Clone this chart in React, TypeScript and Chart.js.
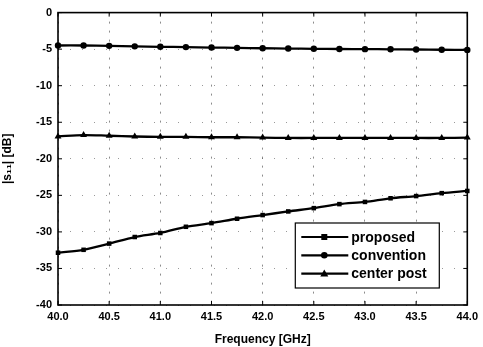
import React, { useEffect, useRef } from "react";
import { Chart, registerables } from "chart.js";

Chart.register(...registerables);

const freqs = [40.0, 40.25, 40.5, 40.75, 41.0, 41.25, 41.5, 41.75, 42.0, 42.25, 42.5, 42.75, 43.0, 43.25, 43.5, 43.75, 44.0];
const proposed = [-32.85, -32.45, -31.6, -30.7, -30.15, -29.3, -28.8, -28.2, -27.7, -27.2, -26.75, -26.2, -25.9, -25.4, -25.1, -24.7, -24.4];
const convention = [-4.5, -4.5, -4.55, -4.62, -4.68, -4.72, -4.78, -4.82, -4.88, -4.92, -4.95, -4.98, -5.0, -5.02, -5.05, -5.08, -5.1];
const centerPost = [-16.95, -16.75, -16.85, -16.95, -17.0, -17.0, -17.05, -17.05, -17.1, -17.15, -17.15, -17.15, -17.15, -17.15, -17.15, -17.15, -17.1];
const seriesNames = ["proposed", "convention", "center post"];
const seriesMarkers = ["rect", "circle", "triangle"];
const xTitle = "Frequency [GHz]";
const yTitle = "|s\u2081\u2081| [dB]";

const FONT = "'Liberation Sans', Arial, sans-serif";

function drawMarker(ctx: CanvasRenderingContext2D, kind: string, x: number, y: number) {
  ctx.beginPath();
  if (kind === "rect") {
    ctx.rect(x - 3, y - 3, 6, 6);
  } else if (kind === "circle") {
    ctx.arc(x, y, 3.3, 0, Math.PI * 2);
  } else {
    ctx.moveTo(x, y - 4);
    ctx.lineTo(x + 4, y + 3);
    ctx.lineTo(x - 4, y + 3);
    ctx.closePath();
  }
  ctx.fill();
}

const framePlugin = {
  id: "framePlugin",
  afterDraw(chart: any) {
    const { ctx, chartArea, scales } = chart;
    const { left, right, top, bottom } = chartArea;
    ctx.save();
    ctx.strokeStyle = "#000";
    ctx.lineWidth = 1.6;
    ctx.strokeRect(left, top, right - left, bottom - top);
    ctx.lineWidth = 1;
    const tl = 4;
    scales.x.ticks.forEach((t: any) => {
      const px = scales.x.getPixelForValue(t.value);
      ctx.beginPath();
      ctx.moveTo(px, bottom);
      ctx.lineTo(px, bottom - tl);
      ctx.moveTo(px, top);
      ctx.lineTo(px, top + tl);
      ctx.stroke();
    });
    scales.y.ticks.forEach((t: any) => {
      const py = scales.y.getPixelForValue(t.value);
      ctx.beginPath();
      ctx.moveTo(left, py);
      ctx.lineTo(left + tl, py);
      ctx.moveTo(right, py);
      ctx.lineTo(right - tl, py);
      ctx.stroke();
    });
    // legend
    const bx = right - 172;
    const by = bottom - 82;
    const bw = 144;
    const bh = 65;
    ctx.fillStyle = "#fff";
    ctx.fillRect(bx, by, bw, bh);
    ctx.strokeStyle = "#000";
    ctx.lineWidth = 1.2;
    ctx.strokeRect(bx, by, bw, bh);
    ctx.font = `bold 14px ${FONT}`;
    ctx.textBaseline = "middle";
    ctx.textAlign = "left";
    seriesNames.forEach((name, i) => {
      const y = by + 14 + i * 18.3;
      ctx.strokeStyle = "#000";
      ctx.lineWidth = 2.2;
      ctx.beginPath();
      ctx.moveTo(bx + 6, y);
      ctx.lineTo(bx + 53, y);
      ctx.stroke();
      ctx.fillStyle = "#000";
      drawMarker(ctx, seriesMarkers[i], bx + 29, y);
      ctx.fillText(name, bx + 56, y + 1);
    });
    ctx.restore();
  },
};

export default function App() {
  const ref = useRef<HTMLCanvasElement | null>(null);
  useEffect(() => {
    if (!ref.current) return;
    const mk = (vals: number[]) => vals.map((v, i) => ({ x: freqs[i], y: v }));
    const ds = (label: string, vals: number[], style: string) => ({
      label,
      data: mk(vals),
      borderColor: "#000",
      backgroundColor: "#000",
      borderWidth: 2.3,
      pointStyle: style,
      pointRadius: style === "triangle" ? 4 : 3.2,
      pointBorderWidth: 0,
      tension: 0.3,
      clip: false as any,
    });
    const chart = new Chart(ref.current, {
      type: "line",
      data: {
        datasets: [
          ds(seriesNames[0], proposed, "rect"),
          ds(seriesNames[1], convention, "circle"),
          ds(seriesNames[2], centerPost, "triangle"),
        ],
      },
      options: {
        animation: false,
        responsive: true,
        maintainAspectRatio: false,
        layout: { padding: { left: 0, top: 10, right: 14, bottom: 0 } },
        plugins: { legend: { display: false }, tooltip: { enabled: false } },
        scales: {
          x: {
            type: "linear",
            min: 40,
            max: 44,
            afterFit(scale: any) {
              scale.height = 42;
            },
            ticks: {
              stepSize: 0.5,
              color: "#000",
              padding: 5,
              font: { family: FONT, size: 11, weight: "bold" },
              callback: (v: any) => Number(v).toFixed(1),
            },
            grid: {
              color: "rgba(0,0,0,0.45)",
              lineWidth: 1,
              drawTicks: false,
            },
            border: { display: false, dash: [2, 7] },
            title: {
              display: true,
              text: xTitle,
              color: "#000",
              font: { family: FONT, size: 12, weight: "bold" },
              padding: { top: 3, bottom: 0 },
            },
          },
          y: {
            min: -40,
            max: 0,
            afterFit(scale: any) {
              scale.width = 58;
            },
            ticks: {
              stepSize: 5,
              color: "#000",
              padding: 6,
              font: { family: FONT, size: 11, weight: "bold" },
            },
            grid: {
              color: "rgba(0,0,0,0.4)",
              lineWidth: 1,
              drawTicks: false,
            },
            border: { display: false, dash: [1, 11] },
            title: {
              display: true,
              text: yTitle,
              color: "#000",
              font: { family: FONT, size: 12, weight: "bold" },
              padding: { top: 0, bottom: 3 },
            },
          },
        },
      },
      plugins: [framePlugin],
    } as any);
    return () => chart.destroy();
  }, []);
  return (
    <div style={{ position: "absolute", left: 0, top: 0, width: 483, height: 347, background: "#fff" }}>
      <canvas ref={ref} />
    </div>
  );
}
